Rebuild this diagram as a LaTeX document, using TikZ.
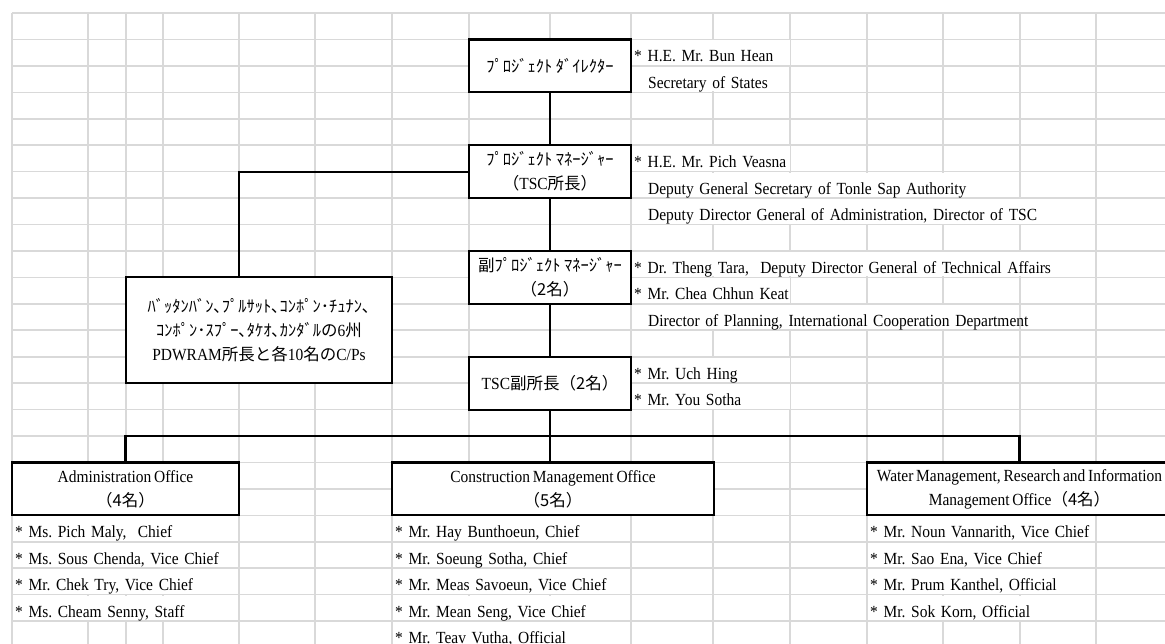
\documentclass[tikz,border=0pt]{standalone}
\usepackage{fontspec}
\setmainfont[FakeStretch=0.91,WordSpace=0.72]{Liberation Serif}
\newfontfamily\jpfont{Noto Sans CJK JP}
\newcommand\jp[1]{{\jpfont\fontsize{16.5}{24}\selectfont #1}}
\newcommand\cellfont{\fontsize{17}{24}\selectfont\spaceskip 4.2pt\relax}
\frenchspacing

\begin{document}
\begin{tikzpicture}[x=1pt,y=-1pt,
                    font=\fontsize{17}{24}\selectfont,
                    grid line/.style={draw=gray!30,line width=1.6},
                    link/.style={draw=black,line width=2.2},
                    org box/.style={draw,line width=2.2,fill=white,align=center,inner sep=0,
                                    minimum width=162,minimum height=52.9},
                    cell text/.style={anchor=west,fill=white,inner xsep=0,inner ysep=0,
                                      minimum height=24.5,text height=21,text depth=2.6,
                                      text width=#1,font=\cellfont}]

  \useasboundingbox (0,0) rectangle (1165,644);
  \clip (0,0) rectangle (1165,644);

  \foreach \gx in {12,88,126,163,239,315,392,469,550,631,713,790,867,943,1020,1096,1172}
    \draw[grid line] (\gx,13) -- (\gx,660);
  \foreach \k in {0,...,24}
    \draw[grid line] (12,{13+26.44*\k}) -- (1180,{13+26.44*\k});

  \node[org box] (dir) at (550,65.88) {\jp{ﾌﾟﾛｼﾞｪｸﾄ ﾀﾞｲﾚｸﾀｰ}};
  \node[org box] (mgr) at (550,171.64) {\jp{ﾌﾟﾛｼﾞｪｸﾄ ﾏﾈｰｼﾞｬｰ}\\\jp{（}TSC\jp{所長）}};
  \node[org box] (dep) at (550,277.4) {\jp{副ﾌﾟﾛｼﾞｪｸﾄ ﾏﾈｰｼﾞｬｰ}\\\jp{（2名）}};
  \node[org box] (vice) at (550,383.16) {TSC\jp{副所長（2名）}};

  \node[org box,minimum width=266,minimum height=105.76] (prov) at (259,330.28)
    {\jp{ﾊﾞｯﾀﾝﾊﾞﾝ､ﾌﾟﾙｻｯﾄ､ｺﾝﾎﾟﾝ･ﾁｭﾅﾝ､}\\
     \jp{ｺﾝﾎﾟﾝ･ｽﾌﾟｰ､ﾀｹｵ､ｶﾝﾀﾞﾙの}6\jp{州}\\
     PDWRAM\jp{所長と各}10\jp{名の}C/Ps};

  \node[org box,minimum width=227] (admin) at (125.5,488.92) {Administration Office\\\jp{（4名）}};
  \node[org box,minimum width=322] (cons) at (553,488.92) {Construction Management Office\\\jp{（5名）}};
  \node[org box,minimum width=305] (water) at (1019.5,488.92)
    {Water Management, Research and Information\\Management Office\jp{（4名）}};

  \coordinate (provtop) at (239,277.4);
  \coordinate (bus) at (550,436.04);

  \draw[link]
    (dir) edge (mgr)
    (mgr) edge (dep)
    (dep) edge (vice)
    (vice) edge (bus);
  \draw[link] (mgr.west) -| (provtop);
  \draw[link] (admin.north) |- (bus) -| (water.north);
  \draw[link] (bus) -- (bus |- cons.north);

  \node[cell text=156] (dir1) at (634,52.66) {\mbox{* H.E. Mr. Bun Hean}};
  \node[cell text=141] (dir2) at (648,79.1) {\mbox{Secretary of States}};

  \node[cell text=156] (mgr1) at (634,158.42) {\mbox{* H.E. Mr. Pich Veasna}};
  \node[cell text=371] (mgr2) at (648,184.86) {\mbox{Deputy General Secretary of Tonle Sap Authority}};
  \node[cell text=447] (mgr3) at (648,211.3) {\mbox{Deputy Director General of Administration, Director of TSC}};

  \node[cell text=461] (dep1) at (634,264.18) {\mbox{* Dr. Theng Tara, \ Deputy Director General of Technical Affairs}};
  \node[cell text=156] (dep2) at (634,290.62) {\mbox{* Mr. Chea Chhun Keat}};
  \node[cell text=371] (dep3) at (648,317.06) {\mbox{Director of Planning, International Cooperation Department}};

  \node[cell text=156] (vice1) at (634,369.94) {\mbox{* Mr. Uch Hing}};
  \node[cell text=156] (vice2) at (634,396.38) {\mbox{* Mr. You Sotha}};

  \node[cell text=223] (admin1) at (15,528.58) {\mbox{* Ms. Pich Maly, \ Chief}};
  \node[cell text=223] (admin2) at (15,555.02) {\mbox{* Ms. Sous Chenda, Vice Chief}};
  \node[cell text=223] (admin3) at (15,581.46) {\mbox{* Mr. Chek Try, Vice Chief}};
  \node[cell text=223] (admin4) at (15,607.9) {\mbox{* Ms. Cheam Senny, Staff}};

  \node[cell text=235] (cons1) at (395,528.58) {\mbox{* Mr. Hay Bunthoeun, Chief}};
  \node[cell text=235] (cons2) at (395,555.02) {\mbox{* Mr. Soeung Sotha, Chief}};
  \node[cell text=235] (cons3) at (395,581.46) {\mbox{* Mr. Meas Savoeun, Vice Chief}};
  \node[cell text=235] (cons4) at (395,607.9) {\mbox{* Mr. Mean Seng, Vice Chief}};
  \node[cell text=235] (cons5) at (395,634.34) {\mbox{* Mr. Teav Vutha, Official}};

  \node[cell text=225] (water1) at (870,528.58) {\mbox{* Mr. Noun Vannarith, Vice Chief}};
  \node[cell text=225] (water2) at (870,555.02) {\mbox{* Mr. Sao Ena, Vice Chief}};
  \node[cell text=225] (water3) at (870,581.46) {\mbox{* Mr. Prum Kanthel, Official}};
  \node[cell text=225] (water4) at (870,607.9) {\mbox{* Mr. Sok Korn, Official}};
\end{tikzpicture}
\end{document}
